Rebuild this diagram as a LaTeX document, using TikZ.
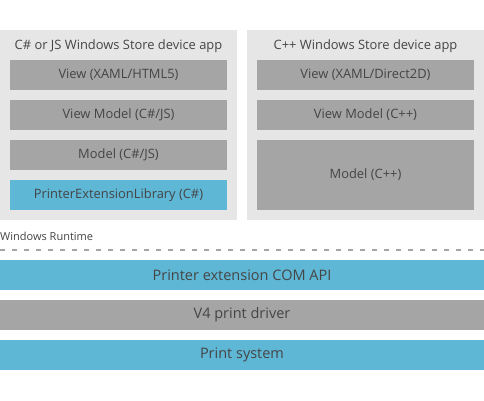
\documentclass[tikz,border=0pt]{standalone}
\usepackage{fontspec}
\setmainfont{Open Sans}
\definecolor{panelgray}{HTML}{E6E6E6}
\definecolor{boxgray}{HTML}{A5A5A5}
\definecolor{boxblue}{HTML}{5FB7D6}
\definecolor{txt}{HTML}{454545}
\begin{document}
\begin{tikzpicture}[x=1pt,y=-1pt,
  panel/.style={fill=panelgray,draw=none,rectangle,inner sep=0pt,outer sep=0pt,minimum width=237pt},
  gbox/.style={fill=boxgray,draw=none,rectangle,inner sep=0pt,outer sep=0pt,minimum width=217pt,minimum height=30pt,text=txt,font=\fontsize{12.9}{14}\selectfont},
  bbox/.style={gbox,fill=boxblue},
  bar/.style={fill=#1,draw=none,rectangle,inner sep=0pt,outer sep=0pt,minimum width=484pt,minimum height=30pt,text=txt,font=\fontsize{14.5}{16}\selectfont},
  ttl/.style={text=txt,inner sep=0pt,font=\fontsize{12.9}{14}\selectfont},
  sep/.style={draw=boxgray,line width=2pt,dash pattern=on 5pt off 7pt}]
\useasboundingbox[fill=white] (0,0) rectangle (484,400);
% left panel
\node[panel,minimum height=190pt] (lp) at (118.5,125) {};
\node[ttl] (lt) at (118.5,46) {C\# or JS Windows Store device app};
\node[gbox] (lv) at (118.5,75) {View (XAML/HTML5)};
\node[gbox] (lvm) at (118.5,115) {View Model (C\#/JS)};
\node[gbox] (lm) at (118.5,155) {Model (C\#/JS)};
\node[bbox] (lpel) at (118.5,195) {PrinterExtensionLibrary (C\#)};
% right panel
\node[panel,minimum height=190pt] (rp) at (365.5,125) {};
\node[ttl] (rt) at (365.5,46) {C++ Windows Store device app};
\node[gbox] (rv) at (365.5,75) {View (XAML/Direct2D)};
\node[gbox] (rvm) at (365.5,115) {View Model (C++)};
\node[gbox,minimum height=70pt] (rm) at (365.5,175) {Model (C++)};
% runtime
\node[ttl,anchor=west,font=\fontsize{11}{13}\selectfont] (wr) at (0,236) {Windows Runtime};
\coordinate (d1) at (0,250);
\coordinate (d2) at (484,250);
\draw[sep] (d1) -- (d2);
% bars
\node[bar=boxblue] (com) at (242,275) {Printer extension COM API};
\node[bar=boxgray] (v4) at (242,315) {V4 print driver};
\node[bar=boxblue] (ps) at (242,355) {Print system};
\end{tikzpicture}
\end{document}
